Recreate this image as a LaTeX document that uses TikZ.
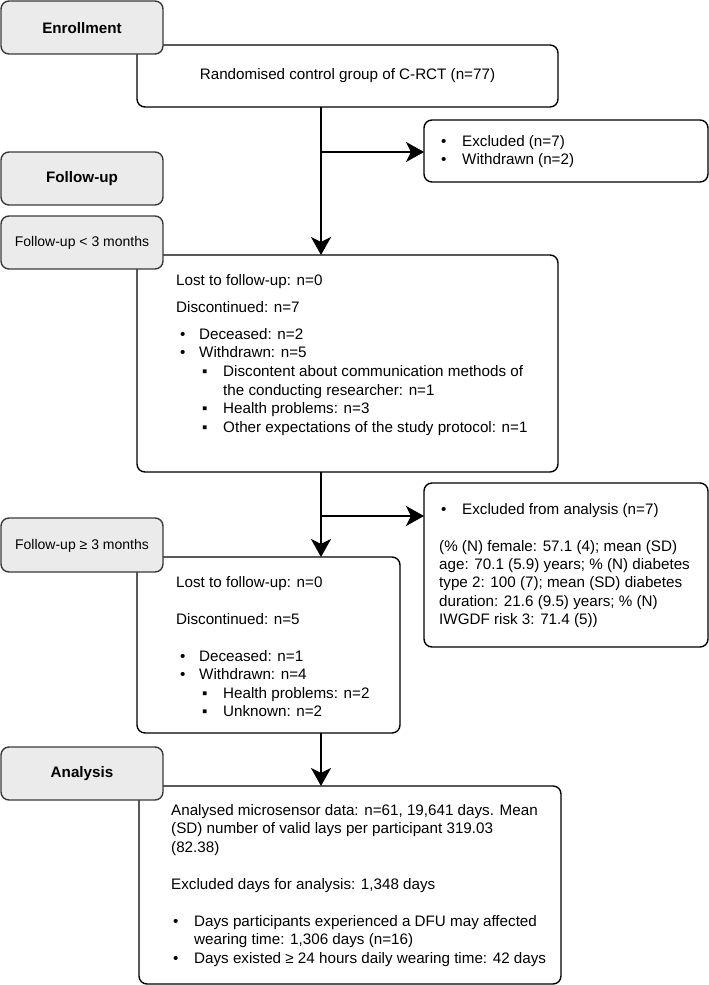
\documentclass[tikz,border=0pt]{standalone}
\usepackage{fontspec}
\setmainfont{Liberation Sans}
\usetikzlibrary{arrows.meta}
\definecolor{lblfill}{HTML}{EBEBEB}
\definecolor{lbldraw}{HTML}{3A3A3A}
\tikzset{
  whitebox/.style={draw=black, line width=1.4pt, rounded corners=8pt, fill=white},
  graybox/.style={draw=lbldraw, line width=1.4pt, rounded corners=8pt, fill=lblfill},
  txt/.style={anchor=base west, inner sep=0pt, font=\fontsize{15.2}{18.5}\selectfont},
  lbl/.style={inner sep=0pt, font=\fontsize{15.2}{18}\selectfont\bfseries},
  lblsmall/.style={inner sep=0pt, font=\fontsize{14}{17}\selectfont},
  flow/.style={line width=2.6pt, -{Stealth[length=18pt,width=20pt,inset=5pt]}},
}
\begin{document}
\begin{tikzpicture}[x=1pt,y=-1pt]
\useasboundingbox (0,0) rectangle (709,985);
% white boxes
\draw[whitebox] (137,45) rectangle (558,107);
\node[inner sep=0pt] (rand) at (347.5,107) {};
\node[inner sep=0pt] (randtxt) at (347.5,76) {\fontsize{15.2}{18}\selectfont Randomised control group of C-RCT (n=77)};
\draw[whitebox] (424,120) rectangle (708,182);
\draw[whitebox] (137,255) rectangle (558,472);
\draw[whitebox] (424,483) rectangle (708,647);
\draw[whitebox] (137,557) rectangle (400,733);
\draw[whitebox] (139,786) rectangle (561,984);
% anchor coordinates
\coordinate (randB) at (321,107);
\coordinate (box2T) at (321,255);
\coordinate (box2B) at (321,472);
\coordinate (box3T) at (321,557);
\coordinate (box3B) at (321,733);
\coordinate (box5T) at (321,786);
\coordinate (br1) at (321,152);
\coordinate (ex1L) at (424,152);
\coordinate (br2) at (321,516);
\coordinate (ex2L) at (424,516);
% gray labels
\draw[graybox] (1,1) rectangle (163,54);
\node[lbl] (enroll) at (82,28) {Enrollment};
\draw[graybox] (1,152) rectangle (163,205);
\node[lbl] (follow) at (82,179) {Follow-up};
\draw[graybox] (1,216) rectangle (163,269);
\node[lblsmall] (fu1) at (82,243) {Follow-up < 3 months};
\draw[graybox] (1,518) rectangle (163,572);
\node[lblsmall] (fu2) at (82,546) {Follow-up ≥ 3 months};
\draw[graybox] (1,747) rectangle (163,800);
\node[lbl] (analysis) at (82,774) {Analysis};
% connectors
\draw[flow] (randB) -- (box2T);
\draw[flow] (br1) -- (ex1L);
\draw[flow] (box2B) -- (box3T);
\draw[flow] (br2) -- (ex2L);
\draw[flow] (box3B) -- (box5T);
% excluded 1
\node[txt] (e1b1) at (441,146) {•};
\node[txt] (e1t1) at (462,146) {Excluded (n=7)};
\node[txt] (e1b2) at (441,164) {•};
\node[txt] (e1t2) at (462,164) {Withdrawn (n=2)};
% box 2
\node[txt] (b2a) at (176,285) {Lost to follow-up: n=0};
\node[txt] (b2b) at (176,312) {Discontinued: n=7};
\node[txt] (b2c1) at (180,339) {•};
\node[txt] (b2c) at (199,339) {Deceased: n=2};
\node[txt] (b2d1) at (180,357) {•};
\node[txt] (b2d) at (199,357) {Withdrawn: n=5};
\node[txt] (b2e1) at (202,376) {▪};
\node[txt] (b2e) at (223,376) {Discontent about communication methods of};
\node[txt] (b2f) at (223,395) {the conducting researcher: n=1};
\node[txt] (b2g1) at (202,413) {▪};
\node[txt] (b2g) at (223,413) {Health problems: n=3};
\node[txt] (b2h1) at (202,432) {▪};
\node[txt] (b2h) at (223,432) {Other expectations of the study protocol: n=1};
% excluded 2
\node[txt] (e2b1) at (441,514) {•};
\node[txt] (e2t1) at (462,514) {Excluded from analysis (n=7)};
\node[txt] (e2p1) at (439,551) {(\% (N) female: 57.1 (4); mean (SD)};
\node[txt] (e2p2) at (439,569) {age: 70.1 (5.9) years; \% (N) diabetes};
\node[txt] (e2p3) at (439,587) {type 2: 100 (7); mean (SD) diabetes};
\node[txt] (e2p4) at (439,606) {duration: 21.6 (9.5) years; \% (N)};
\node[txt] (e2p5) at (439,624) {IWGDF risk 3: 71.4 (5))};
% box 3
\node[txt] (b3a) at (176,587) {Lost to follow-up: n=0};
\node[txt] (b3b) at (176,624) {Discontinued: n=5};
\node[txt] (b3c1) at (180,661) {•};
\node[txt] (b3c) at (199,661) {Deceased: n=1};
\node[txt] (b3d1) at (180,679) {•};
\node[txt] (b3d) at (199,679) {Withdrawn: n=4};
\node[txt] (b3e1) at (202,698) {▪};
\node[txt] (b3e) at (223,698) {Health problems: n=2};
\node[txt] (b3f1) at (202,716) {▪};
\node[txt] (b3f) at (223,716) {Unknown: n=2};
% box 5
\node[txt] (b5a) at (171,815) {Analysed microsensor data: n=61, 19,641 days. Mean};
\node[txt] (b5b) at (171,833) {(SD) number of valid lays per participant 319.03};
\node[txt] (b5c) at (171,852) {(82.38)};
\node[txt] (b5d) at (171,889) {Excluded days for analysis: 1,348 days};
\node[txt] (b5e1) at (173,926) {•};
\node[txt] (b5e) at (194,926) {Days participants experienced a DFU may affected};
\node[txt] (b5f) at (194,944) {wearing time: 1,306 days (n=16)};
\node[txt] (b5g1) at (173,963) {•};
\node[txt] (b5g) at (194,963) {Days existed ≥ 24 hours daily wearing time: 42 days};
\end{tikzpicture}
\end{document}
